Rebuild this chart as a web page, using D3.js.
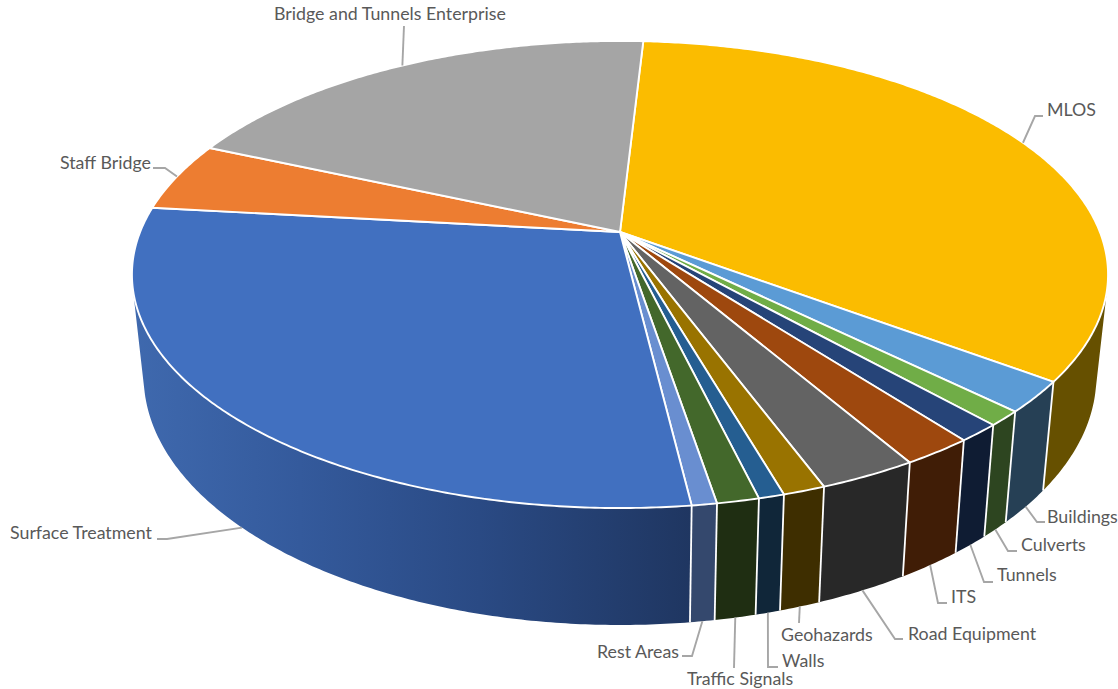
<!DOCTYPE html>
<html>
<head>
<meta charset="utf-8">
<style>
  html, body { margin: 0; padding: 0; background: #fff; }
  svg { display: block; }
  text { font-family: "Lato", "Open Sans", sans-serif; font-size: 17.8px; fill: #595959; }
</style>
</head>
<body>
<svg id="chart" width="1118" height="689"></svg>
<script src="https://cdn.jsdelivr.net/npm/d3@7/dist/d3.min.js"></script>
<script>
// Programme budget shares, percent, clockwise from the back of the pie
const categories = ["MLOS", "Buildings", "Culverts", "Tunnels", "ITS", "Road Equipment", "Geohazards",
  "Walls", "Traffic Signals", "Rest Areas", "Surface Treatment", "Staff Bridge", "Bridge and Tunnels Enterprise"];
const shares = [34.21, 2.14, 1.03, 1.24, 2.01, 2.77, 1.19, 0.72, 1.18, 0.70, 28.73, 4.8, 19.4];

const faceColors = ["#FBBC00", "#5B9BD5", "#70AD47", "#264478", "#9E480E", "#636363", "#997300",
  "#255E91", "#43682B", "#698ED0", "#4170C0", "#ED7D31", "#A5A5A5"];
const wallColors = ["#665000", "#264055", "#2D4520", "#0F1C33", "#401D06", "#282828", "#3E2E00",
  "#102639", "#1F2E12", "#34486D", "url(#surfaceWall)", "#5F3214", "#424242"];

// Leader line layout: elbow, end of the line, label start, and which rim the line leaves from
const labelLayout = {
  "MLOS": { rim: "top", path: [[1035, 116], [1043, 116]], text: [1047, 110] },
  "Buildings": { rim: "bottom", path: [[1037, 522], [1045, 522]], text: [1047, 517] },
  "Culverts": { rim: "bottom", path: [[1008, 551], [1017, 551]], text: [1021, 545] },
  "Tunnels": { rim: "bottom", path: [[984, 582], [993, 582]], text: [997, 575] },
  "ITS": { rim: "bottom", path: [[938, 603], [947, 603]], text: [951, 597] },
  "Road Equipment": { rim: "bottom", path: [[895, 639], [903, 639]], text: [908, 634] },
  "Geohazards": { rim: "bottom", path: [[799, 623]], text: [781, 635] },
  "Walls": { rim: "bottom", path: [[768, 667], [778, 667]], text: [782, 661] },
  "Traffic Signals": { rim: "bottom", path: [[734, 668]], text: [687, 679] },
  "Rest Areas": { rim: "bottom", path: [[692, 656], [682, 656]], text: [597, 652] },
  "Surface Treatment": { rim: "bottom", path: [[167, 539], [157, 539]], text: [10, 533] },
  "Staff Bridge": { rim: "top", path: [[165, 168], [153, 168]], text: [60, 163] },
  "Bridge and Tunnels Enterprise": { rim: "top", path: [[404, 26]], text: [274, 14] }
};

const deg = Math.PI / 180;
const startAngle = 3.29 * deg;

// Perspective view of the pie disc: the apex sits above the centre of the rim ellipse
const apex = [620, 232];
const spreadX = 479.9, spreadY = 225.8, tilt = 0.182;
const floor = { scaleX: 0.976, scaleY: 1.065, apexY: 331 };

function project(angle, ring) {
  const u = Math.sin(angle), v = -Math.cos(angle), w = 1 - tilt * v;
  const dx = spreadX * u / w, dy = spreadY * v / w;
  return ring === "bottom"
    ? [apex[0] + floor.scaleX * dx, floor.apexY + floor.scaleY * dy]
    : [apex[0] + dx, apex[1] + dy];
}

const arcs = d3.pie().sort(null).startAngle(startAngle).endAngle(startAngle + 2 * Math.PI)(shares);

function samples(a0, a1) {
  const n = Math.max(2, Math.ceil((a1 - a0) / (0.5 * deg)));
  return d3.range(n + 1).map(i => a0 + (a1 - a0) * i / n);
}

const svg = d3.select("#chart");
const line = d3.line();

const gradient = svg.append("defs").append("linearGradient")
  .attr("id", "surfaceWall").attr("gradientUnits", "userSpaceOnUse")
  .attr("x1", 132).attr("x2", 692).attr("y1", 0).attr("y2", 0);
gradient.selectAll("stop")
  .data([[0, "#3F69AE"], [0.3, "#345A9C"], [0.62, "#2A4A84"], [1, "#1F3661"]])
  .join("stop").attr("offset", d => d[0]).attr("stop-color", d => d[1]);

// Side wall: one quad per rim step, all wound the same way so overlaps near the silhouette stay filled
function wallPath(d) {
  const a0 = Math.max(d.startAngle, 60 * deg), a1 = Math.min(d.endAngle, 300 * deg);
  if (a1 <= a0) return null;
  const steps = samples(a0, a1);
  return d3.pairs(steps).map(([p, q]) => {
    const quad = [project(p, "top"), project(q, "top"), project(q, "bottom"), project(p, "bottom")];
    return line(d3.polygonArea(quad) < 0 ? quad.reverse() : quad) + "Z";
  }).join("");
}

svg.append("g").selectAll("path")
  .data(arcs.filter(wallPath))
  .join("path")
  .attr("d", wallPath)
  .attr("fill", d => wallColors[d.index]);

// White seams between neighbouring wall sections on the near side
svg.append("g").selectAll("line")
  .data(arcs.filter(d => d.endAngle > 120 * deg && d.endAngle < 180 * deg))
  .join("line")
  .attr("x1", d => project(d.endAngle, "top")[0])
  .attr("y1", d => project(d.endAngle, "top")[1])
  .attr("x2", d => project(d.endAngle, "bottom")[0])
  .attr("y2", d => project(d.endAngle, "bottom")[1])
  .attr("stroke", "#fff").attr("stroke-width", 1.8);

// Top faces
svg.append("g").selectAll("path")
  .data(arcs)
  .join("path")
  .attr("d", d => line([apex, ...samples(d.startAngle, d.endAngle).map(a => project(a, "top"))]) + "Z")
  .attr("fill", d => faceColors[d.index])
  .attr("stroke", "#fff").attr("stroke-width", 1.9).attr("stroke-linejoin", "round");

// Leader lines start from the middle of each slice's rim
svg.append("g").selectAll("path")
  .data(arcs)
  .join("path")
  .attr("d", d => {
    const layout = labelLayout[categories[d.index]];
    return line([project((d.startAngle + d.endAngle) / 2, layout.rim), ...layout.path]);
  })
  .attr("fill", "none").attr("stroke", "#A6A6A6").attr("stroke-width", 1.9);

svg.append("g").selectAll("text")
  .data(categories)
  .join("text")
  .attr("x", d => labelLayout[d].text[0])
  .attr("y", d => labelLayout[d].text[1])
  .attr("dy", "0.35em")
  .text(d => d);
</script>
</body>
</html>
